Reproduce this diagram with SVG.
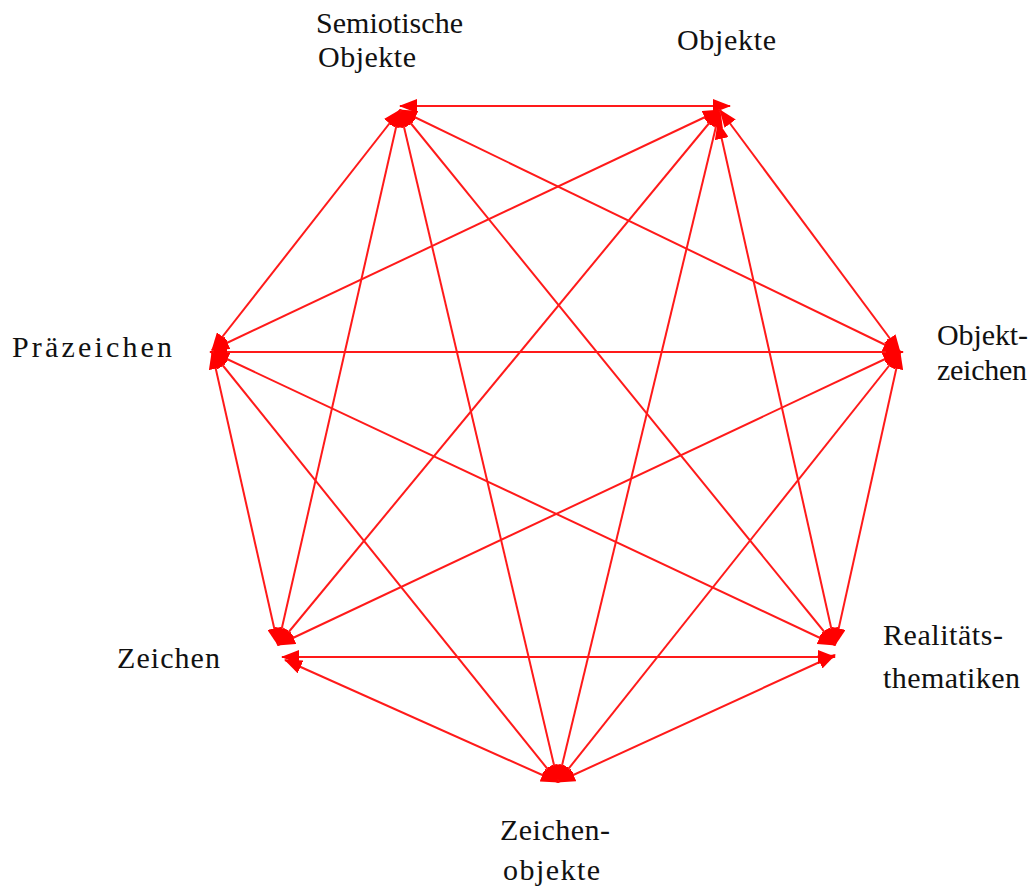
<svg xmlns="http://www.w3.org/2000/svg" width="1033" height="893" viewBox="0 0 1033 893">
<style>
.e{stroke:#ff1a1a;stroke-width:2;fill:none;marker-start:url(#a);marker-end:url(#a)}
text{font-family:"Liberation Serif","Times New Roman",serif;font-size:30px;fill:#111}
</style>
<defs>
<marker id="a" viewBox="0 0 18 14" refX="17" refY="7" markerWidth="18" markerHeight="14" markerUnits="userSpaceOnUse" orient="auto-start-reverse">
<path d="M0,0 L18,7 L0,14 z" fill="#ff0000"/>
</marker>
</defs>
<rect width="1033" height="893" fill="#fff"/>
<g id="connectors">
<line class="e" x1="400" y1="106" x2="730" y2="106"/>
<line class="e" x1="400" y1="110" x2="900" y2="352"/>
<line class="e" x1="400" y1="110" x2="835" y2="645"/>
<line class="e" x1="400" y1="110" x2="558" y2="782"/>
<line class="e" x1="400" y1="110" x2="278" y2="645"/>
<line class="e" x1="400" y1="110" x2="212" y2="350"/>
<line class="e" x1="720" y1="110" x2="900" y2="352"/>
<line class="e" x1="718" y1="122" x2="835" y2="645"/>
<line class="e" x1="720" y1="110" x2="558" y2="782"/>
<line class="e" x1="720" y1="110" x2="278" y2="645"/>
<line class="e" x1="720" y1="110" x2="212" y2="350"/>
<line class="e" x1="900" y1="352" x2="835" y2="645"/>
<line class="e" x1="900" y1="352" x2="558" y2="782"/>
<line class="e" x1="900" y1="352" x2="278" y2="645"/>
<line class="e" x1="903" y1="352" x2="210" y2="352"/>
<line class="e" x1="835" y1="655" x2="558" y2="782"/>
<line class="e" x1="835" y1="657" x2="282" y2="657"/>
<line class="e" x1="835" y1="645" x2="212" y2="352"/>
<line class="e" x1="558" y1="782" x2="285" y2="660"/>
<line class="e" x1="558" y1="782" x2="212" y2="352"/>
<line class="e" x1="278" y1="645" x2="212" y2="352"/>
</g>
<g id="n-so"><text x="316" y="33" textLength="147" lengthAdjust="spacing">Semiotische</text><text x="318" y="67" textLength="98" lengthAdjust="spacing">Objekte</text></g>
<g id="n-o"><text x="677" y="50" textLength="99" lengthAdjust="spacing">Objekte</text></g>
<g id="n-oz"><text x="937" y="345" textLength="91" lengthAdjust="spacing">Objekt-</text><text x="937" y="380" textLength="90" lengthAdjust="spacing">zeichen</text></g>
<g id="n-rt"><text x="883" y="645" textLength="120" lengthAdjust="spacing">Realitäts-</text><text x="883" y="688" textLength="137" lengthAdjust="spacing">thematiken</text></g>
<g id="n-zo"><text x="500" y="840" textLength="110" lengthAdjust="spacing">Zeichen-</text><text x="503" y="880" textLength="97" lengthAdjust="spacing">objekte</text></g>
<g id="n-z"><text x="117" y="668" textLength="103" lengthAdjust="spacing">Zeichen</text></g>
<g id="n-p"><text x="12" y="357" textLength="160" lengthAdjust="spacing">Präzeichen</text></g>
</svg>
